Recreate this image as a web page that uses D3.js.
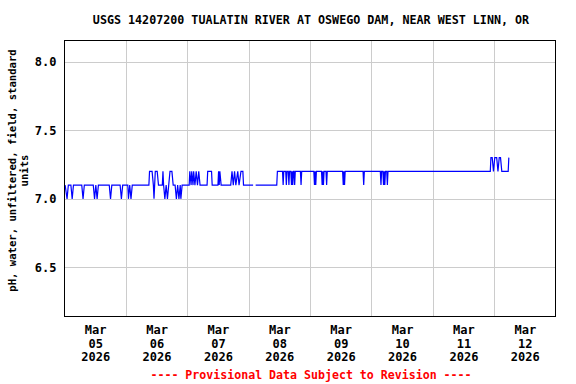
<!DOCTYPE html>
<html>
<head>
<meta charset="utf-8">
<script src="https://cdn.jsdelivr.net/npm/d3@7"></script>
<style>
  html, body { margin: 0; padding: 0; background: #fff; }
  svg { display: block; }
  text { font-family: "DejaVu Sans Mono", "Liberation Mono", monospace; font-weight: bold; }
</style>
</head>
<body>
<svg id="chart" width="576" height="384"></svg>
<script>
// ---- Data ----
const title = "USGS 14207200 TUALATIN RIVER AT OSWEGO DAM, NEAR WEST LINN, OR";
const yLabelLines = ["pH, water, unfiltered, field, standard", "units"];
const footer = "---- Provisional Data Subject to Revision ----";
const startDate = "2026-03-05T00:00:00Z";
const endDate = "2026-03-13T00:00:00Z";
const dayTicks = ["2026-03-05T12:00:00Z","2026-03-06T12:00:00Z","2026-03-07T12:00:00Z","2026-03-08T12:00:00Z",
                  "2026-03-09T12:00:00Z","2026-03-10T12:00:00Z","2026-03-11T12:00:00Z","2026-03-12T12:00:00Z"];
const yTicks = [6.5, 7.0, 7.5, 8.0];
const yTickLabels = ["6.5", "7.0", "7.5", "8.0"];
const yDomain = [6.143, 8.153];

// hours since Mar 05 00:00, and pH readings (null = gap)
const hours = [
  0.25, 1.0, 1.5, 2.5, 3.0, 3.5, 6.75, 7.25, 7.75, 11.25, 11.75, 12.25, 12.75, 13.25,
  17.5, 18.0, 18.5, 21.75, 22.25, 22.75, 24.75, 25.0, 25.5, 26.0, 26.5,
  33.0, 33.25, 34.25, 34.75, 35.0, 35.5, 36.25, 36.75, 38.25, 38.5, 38.75, 39.25, 39.75, 40.25, 40.75,
  41.25, 42.0, 42.5, 43.25, 43.75, 44.25, 44.75, 45.25, 45.5, 46.0,
  48.75, 49.0, 49.5, 49.75, 50.25, 50.5, 51.0, 51.5, 52.0, 52.5, 53.0,
  55.75, 56.0, 57.5, 57.75, 60.0, 60.25, 60.5, 60.75, 61.25,
  65.0, 65.5, 66.0, 66.5, 67.0, 67.75, 68.25, 69.0, 69.75, 70.0, 73.75, 74.25,
  74.75, 83.0, 83.25, 85.25, 85.5, 85.75, 86.5, 86.75, 87.0, 87.5, 87.75, 88.0,
  88.5, 88.75, 89.0, 89.25, 89.5, 89.75, 90.0, 90.25,
  92.25, 92.5, 92.75, 97.5, 97.75, 98.0, 98.25, 98.5,
  100.5, 100.75, 101.0, 101.25, 101.5, 102.25, 102.5, 102.75,
  108.75, 109.0, 109.25, 109.5, 109.75, 116.75, 117.0, 117.25,
  123.5, 123.75, 124.0, 124.5, 124.75, 125.0, 125.25, 125.5, 126.0, 126.25, 126.5,
  166.5, 166.75, 167.25, 167.75, 168.25, 169.0, 169.5, 170.0, 170.5, 171.0, 173.5, 173.75
];
const pH = [
  7.1, 7.0, 7.1, 7.1, 7.0, 7.1, 7.1, 7.0, 7.1, 7.1, 7.0, 7.1, 7.0, 7.1,
  7.1, 7.0, 7.1, 7.1, 7.0, 7.1, 7.1, 7.0, 7.1, 7.0, 7.1,
  7.1, 7.2, 7.2, 7.1, 7.0, 7.2, 7.2, 7.1, 7.1, 7.2, 7.1, 7.0, 7.1, 7.0, 7.1,
  7.2, 7.2, 7.1, 7.1, 7.0, 7.1, 7.0, 7.1, 7.0, 7.1,
  7.1, 7.2, 7.1, 7.2, 7.1, 7.2, 7.1, 7.2, 7.1, 7.2, 7.1,
  7.1, 7.2, 7.2, 7.1, 7.1, 7.2, 7.1, 7.2, 7.1,
  7.1, 7.2, 7.1, 7.2, 7.1, 7.2, 7.1, 7.2, 7.2, 7.1, 7.1, null,
  7.1, 7.1, 7.2, 7.2, 7.1, 7.2, 7.2, 7.1, 7.2, 7.2, 7.1, 7.2,
  7.2, 7.1, 7.2, 7.1, 7.2, 7.2, 7.1, 7.2,
  7.2, 7.1, 7.2, 7.2, 7.1, 7.2, 7.1, 7.2,
  7.2, 7.1, 7.2, 7.1, 7.2, 7.2, 7.1, 7.2,
  7.2, 7.1, 7.2, 7.1, 7.2, 7.2, 7.1, 7.2,
  7.2, 7.1, 7.2, 7.2, 7.1, 7.2, 7.1, 7.2, 7.2, 7.1, 7.2,
  7.2, 7.3, 7.3, 7.2, 7.3, 7.3, 7.2, 7.3, 7.3, 7.2, 7.2, 7.3
];

// ---- Chart ----
const svg = d3.select("#chart");
const plot = { left: 64.5, right: 555.5, top: 40.5, bottom: 316.5 };

const t0 = new Date(startDate);
const x = d3.scaleUtc().domain([t0, new Date(endDate)]).range([plot.left, plot.right]);
const y = d3.scaleLinear().domain(yDomain).range([plot.bottom, plot.top]);

const data = hours.map((h, i) => ({ t: new Date(t0.getTime() + h * 3600000), v: pH[i] }));

// grid
const dayBounds = d3.utcDay.range(new Date(startDate), new Date(endDate)).slice(1);
svg.append("g").selectAll("line").data(dayBounds).join("line")
  .attr("x1", d => Math.round(x(d)) + 0.5).attr("x2", d => Math.round(x(d)) + 0.5)
  .attr("y1", plot.top).attr("y2", plot.bottom)
  .attr("stroke", "#cccccc").attr("stroke-width", 1);
svg.append("g").selectAll("line").data(yTicks).join("line")
  .attr("x1", plot.left).attr("x2", plot.right)
  .attr("y1", d => Math.round(y(d)) + 0.5).attr("y2", d => Math.round(y(d)) + 0.5)
  .attr("stroke", "#cccccc").attr("stroke-width", 1);

// data line
const line = d3.line()
  .defined(d => d.v !== null)
  .x(d => x(d.t)).y(d => y(d.v));
svg.append("path").datum(data)
  .attr("d", line)
  .attr("fill", "none")
  .attr("stroke", "#0000ff")
  .attr("stroke-width", 1.2)
  .attr("stroke-linejoin", "miter");

// frame
svg.append("rect")
  .attr("x", plot.left).attr("y", plot.top)
  .attr("width", plot.right - plot.left).attr("height", plot.bottom - plot.top)
  .attr("fill", "none").attr("stroke", "#000").attr("stroke-width", 1);

// y axis
const yAxis = d3.axisLeft(y).tickValues(yTicks).tickSize(0).tickPadding(8)
  .tickFormat((d, i) => yTickLabels[i]);
const gy = svg.append("g").attr("transform", `translate(${plot.left},0)`).call(yAxis);
gy.select(".domain").remove();
gy.selectAll("text").attr("font-size", 12).attr("font-family", "DejaVu Sans Mono").attr("font-weight", "bold").attr("fill", "#000");

// x axis (three-line labels at noon)
const tickDates = dayTicks.map(s => new Date(s));
const xAxis = d3.axisBottom(x).tickValues(tickDates).tickSize(0).tickFormat("");
const gx = svg.append("g").attr("transform", `translate(0,${plot.bottom})`).call(xAxis);
gx.select(".domain").remove();
const fmtM = d3.utcFormat("%b"), fmtD = d3.utcFormat("%d"), fmtY = d3.utcFormat("%Y");
gx.selectAll(".tick").each(function(d) {
  const g = d3.select(this);
  g.select("text").remove();
  const tx = g.append("text").attr("text-anchor", "middle").attr("font-size", 12)
    .attr("font-family", "DejaVu Sans Mono").attr("font-weight", "bold").attr("fill", "#000");
  tx.append("tspan").attr("x", 0).attr("y", 17).text(fmtM(d));
  tx.append("tspan").attr("x", 0).attr("y", 31).text(fmtD(d));
  tx.append("tspan").attr("x", 0).attr("y", 44.5).text(fmtY(d));
});

// title
svg.append("text").attr("x", 311).attr("y", 24).attr("text-anchor", "middle")
  .attr("font-size", 11.7).attr("fill", "#000").text(title);

// y label
const yl = svg.append("text").attr("transform", `translate(0,${(plot.top + plot.bottom) / 2 - 8}) rotate(-90)`)
  .attr("text-anchor", "middle").attr("font-size", 10.6).attr("fill", "#000");
yl.append("tspan").attr("x", 0).attr("y", 16).text(yLabelLines[0]);
yl.append("tspan").attr("x", 0).attr("y", 28).text(yLabelLines[1]);

// footer
svg.append("text").attr("x", 311).attr("y", 379).attr("text-anchor", "middle")
  .attr("font-size", 11.6).attr("fill", "#ff0000").text(footer);
</script>
</body>
</html>
